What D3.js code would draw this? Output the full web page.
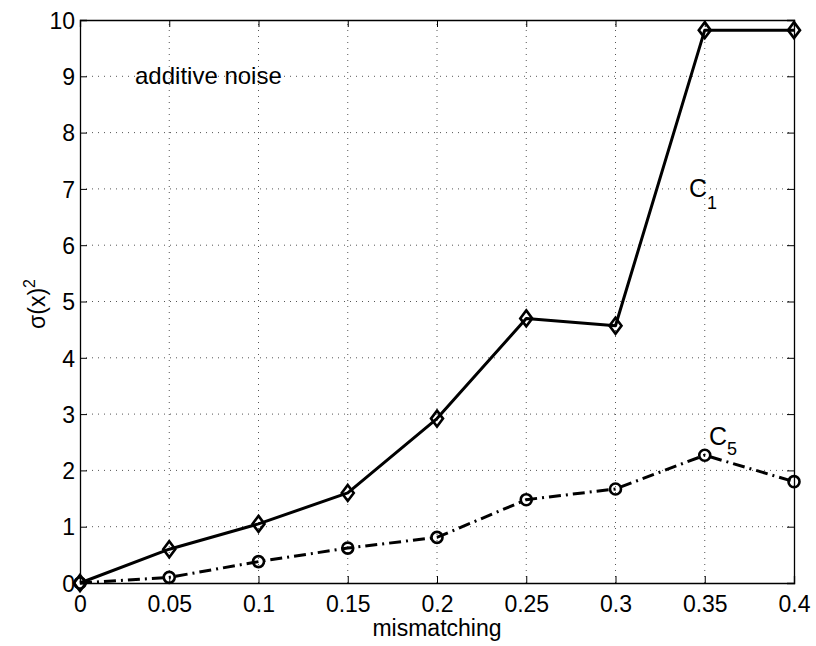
<!DOCTYPE html>
<html>
<head>
<meta charset="utf-8">
<script src="https://cdn.jsdelivr.net/npm/d3@7"></script>
<style>
  body { margin: 0; background: #fff; }
  svg { font-family: "Liberation Sans", Arial, sans-serif; }
</style>
</head>
<body>
<div id="chart"></div>
<script>
// values
let mismatching = [0, 0.05, 0.1, 0.15, 0.2, 0.25, 0.3, 0.35, 0.4];
let c1Values = [0, 0.6, 1.05, 1.6, 2.92, 4.7, 4.57, 9.82, 9.82];
let c5Values = [0, 0.1, 0.38, 0.62, 0.81, 1.48, 1.67, 2.27, 1.8];
let xTicks = [0, 0.05, 0.1, 0.15, 0.2, 0.25, 0.3, 0.35, 0.4];
let yTicks = [0, 1, 2, 3, 4, 5, 6, 7, 8, 9, 10];

let width = 816, height = 646;
let margin = {top: 20, right: 22, bottom: 63, left: 80};

let svg = d3.select("#chart").append("svg")
    .attr("width", width).attr("height", height);

let x = d3.scaleLinear().domain([0, 0.4]).range([margin.left, width - margin.right]);
let y = d3.scaleLinear().domain([0, 10]).range([height - margin.bottom, margin.top]);

let x0 = x(0), x1 = x(0.4), y0 = y(0), y1 = y(10);

// grid
let grid = svg.append("g");
grid.selectAll(".gx").data(xTicks.slice(1, -1)).enter().append("line")
    .attr("x1", d => x(d)).attr("x2", d => x(d))
    .attr("y1", y0).attr("y2", y1)
    .style("stroke", "#555").style("stroke-width", 1)
    .style("stroke-dasharray", "1,5");
grid.selectAll(".gy").data(yTicks.slice(1, -1)).enter().append("line")
    .attr("x1", x0).attr("x2", x1)
    .attr("y1", d => y(d)).attr("y2", d => y(d))
    .style("stroke", "#555").style("stroke-width", 1)
    .style("stroke-dasharray", "1,5");

// axes (ticks inward, matlab style box)
let bottomAxis = svg.append("g").attr("transform", `translate(0,${y0})`)
    .call(d3.axisBottom(x).tickValues(xTicks).tickSize(-7).tickPadding(13).tickFormat(d => d3.format("")(d)));
let topAxis = svg.append("g").attr("transform", `translate(0,${y1})`)
    .call(d3.axisTop(x).tickValues(xTicks).tickSize(-7).tickFormat(""));
let leftAxis = svg.append("g").attr("transform", `translate(${x0},0)`)
    .call(d3.axisLeft(y).tickValues(yTicks).tickSize(-7).tickPadding(5));
let rightAxis = svg.append("g").attr("transform", `translate(${x1},0)`)
    .call(d3.axisRight(y).tickValues(yTicks).tickSize(-7).tickFormat(""));

[bottomAxis, topAxis, leftAxis, rightAxis].forEach(a => {
    a.attr("font-size", null).attr("font-family", null);
    a.select(".domain").style("stroke", "#000").style("stroke-width", 1.3);
    a.selectAll(".tick line").style("stroke", "#000").style("stroke-width", 1);
    a.selectAll(".tick text").style("font-size", "23px").style("fill", "#000");
});
leftAxis.selectAll(".tick text").attr("dy", "0.36em");

// lines
let line = d3.line().x(d => x(d[0])).y(d => y(d[1]));
let c1 = mismatching.map((m, i) => [m, c1Values[i]]);
let c5 = mismatching.map((m, i) => [m, c5Values[i]]);

svg.append("path").datum(c1).attr("d", line)
    .style("fill", "none").style("stroke", "#000").style("stroke-width", 3)
    .style("stroke-linejoin", "round");
svg.append("path").datum(c5).attr("d", line)
    .style("fill", "none").style("stroke", "#000").style("stroke-width", 3)
    .style("stroke-dasharray", "12,5,2,5");

// markers
svg.selectAll(".dia").data(c1).enter().append("path")
    .attr("transform", d => `translate(${x(d[0])},${y(d[1])})`)
    .attr("d", "M0,-8L6,0L0,8L-6,0Z")
    .style("fill", "none").style("stroke", "#000").style("stroke-width", 2.6);
svg.selectAll(".circ").data(c5).enter().append("circle")
    .attr("cx", d => x(d[0])).attr("cy", d => y(d[1])).attr("r", 5.5)
    .style("fill", "none").style("stroke", "#000").style("stroke-width", 2.6);

// labels
svg.append("text").attr("x", 135).attr("y", 84)
    .style("font-size", "24px").text("additive noise");

let lab1 = svg.append("text").attr("x", 689).attr("y", 197).style("font-size", "25px");
lab1.append("tspan").text("C");
lab1.append("tspan").attr("dy", 12).style("font-size", "18px").text("1");

let lab5 = svg.append("text").attr("x", 709).attr("y", 445).style("font-size", "25px");
lab5.append("tspan").text("C");
lab5.append("tspan").attr("dy", 10).style("font-size", "18px").text("5");

svg.append("text").attr("x", (x0 + x1) / 2).attr("y", 636)
    .attr("text-anchor", "middle").style("font-size", "23px").text("mismatching");

let yl = svg.append("text")
    .attr("transform", "translate(45,304) rotate(-90)")
    .attr("text-anchor", "middle").style("font-size", "23px");
yl.append("tspan").text("σ(x)");
yl.append("tspan").attr("dy", -10).style("font-size", "16px").text("2");
</script>
</body>
</html>
